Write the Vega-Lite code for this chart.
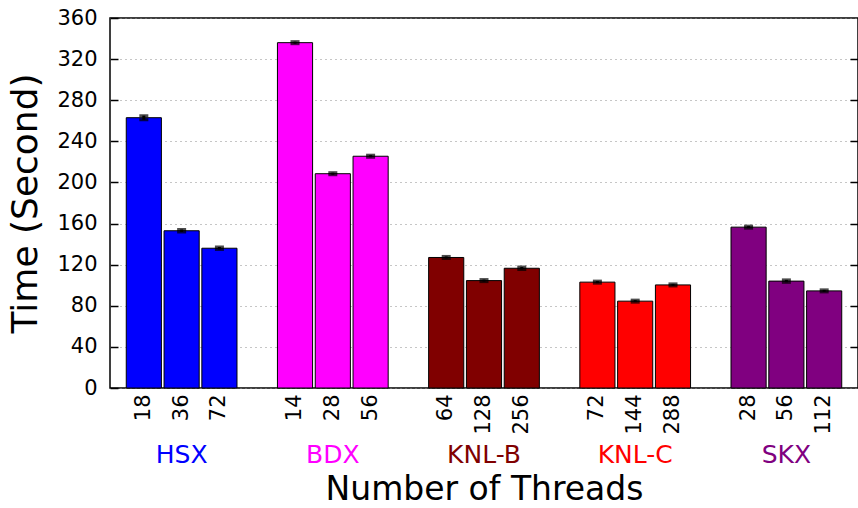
{
  "$schema": "https://vega.github.io/schema/vega-lite/v6.json",
  "width": 748,
  "height": 370,
  "autosize": "none",
  "padding": {"left": 110, "top": 18, "right": 0, "bottom": 120},
  "background": "white",
  "config": {
    "font": "DejaVu Sans",
    "view": {"stroke": "#000000", "strokeWidth": 1.5},
    "axis": {"labelFont": "DejaVu Sans", "titleFont": "DejaVu Sans", "labelColor": "#000000", "titleColor": "#000000", "titleFontWeight": "normal"}
  },
  "data": {
    "values": [
      {"platform": "HSX", "threads": "18", "time": 263, "err": 2},
      {"platform": "HSX", "threads": "36", "time": 153, "err": 1.2},
      {"platform": "HSX", "threads": "72", "time": 136, "err": 1.2},
      {"platform": "BDX", "threads": "14", "time": 336, "err": 1},
      {"platform": "BDX", "threads": "28", "time": 208.5, "err": 1},
      {"platform": "BDX", "threads": "56", "time": 225.5, "err": 1},
      {"platform": "KNL-B", "threads": "64", "time": 127, "err": 1},
      {"platform": "KNL-B", "threads": "128", "time": 104.5, "err": 1},
      {"platform": "KNL-B", "threads": "256", "time": 116.5, "err": 1.2},
      {"platform": "KNL-C", "threads": "72", "time": 103, "err": 1},
      {"platform": "KNL-C", "threads": "144", "time": 84.5, "err": 1},
      {"platform": "KNL-C", "threads": "288", "time": 100.3, "err": 1},
      {"platform": "SKX", "threads": "28", "time": 156.5, "err": 1},
      {"platform": "SKX", "threads": "56", "time": 104, "err": 1.2},
      {"platform": "SKX", "threads": "112", "time": 94.5, "err": 1}
    ]
  },
  "transform": [
    {"calculate": "datum.platform + '|' + datum.threads", "as": "key"}
  ],
  "resolve": {"axis": {"x": "independent", "y": "independent"}},
  "layer": [
    {
      "mark": {"type": "bar", "stroke": "#000000", "strokeWidth": 1},
      "encoding": {
        "x": {
          "field": "key",
          "type": "nominal",
          "scale": {
            "domain": ["HSX|18", "HSX|36", "HSX|72", "gap1", "BDX|14", "BDX|28", "BDX|56", "gap2", "KNL-B|64", "KNL-B|128", "KNL-B|256", "gap3", "KNL-C|72", "KNL-C|144", "KNL-C|288", "gap4", "SKX|28", "SKX|56", "SKX|112"],
            "paddingInner": 0.07,
            "paddingOuter": 0.43
          },
          "axis": {
            "orient": "bottom",
            "title": null,
            "labelExpr": "indexof(datum.value, '|') > 0 ? split(datum.value, '|')[1] : ''",
            "labelAngle": -90,
            "labelFontSize": 21,
            "labelPadding": 6,
            "ticks": false,
            "domain": false,
            "grid": false
          }
        },
        "y": {
          "field": "time",
          "type": "quantitative",
          "scale": {"domain": [0, 360], "nice": false},
          "axis": {
            "orient": "left",
            "title": "Time (Second)",
            "titleFontSize": 36,
            "titlePadding": 12,
            "values": [0, 40, 80, 120, 160, 200, 240, 280, 320, 360],
            "labelFontSize": 21,
            "labelPadding": 21,
            "ticks": true,
            "tickSize": -8,
            "tickColor": "#000000",
            "tickWidth": 1.5,
            "domain": false,
            "grid": true,
            "gridColor": "#8c8c8c",
            "gridDash": [1, 4],
            "gridWidth": 1
          }
        },
        "color": {
          "field": "platform",
          "type": "nominal",
          "scale": {
            "domain": ["HSX", "BDX", "KNL-B", "KNL-C", "SKX"],
            "range": ["#0000ff", "#ff00ff", "#800000", "#ff0000", "#800080"]
          },
          "legend": null
        }
      }
    },
    {
      "mark": {"type": "errorbar", "ticks": {"size": 9, "thickness": 3, "color": "#000000"}, "thickness": 3, "color": "#000000"},
      "encoding": {
        "x": {
          "field": "key",
          "type": "nominal",
          "axis": {
            "orient": "bottom",
            "offset": 50,
            "title": "Number of Threads",
            "titleFontSize": 33,
            "titlePadding": 6,
            "labelExpr": "indexof(['HSX|36', 'BDX|28', 'KNL-B|128', 'KNL-C|144', 'SKX|56'], datum.value) >= 0 ? split(datum.value, '|')[0] : ''",
            "labelAngle": 0,
            "labelFontSize": 25,
            "labelPadding": 4,
            "labelColor": {
              "condition": [
                {"test": "datum.value == 'HSX|36'", "value": "#0000ff"},
                {"test": "datum.value == 'BDX|28'", "value": "#ff00ff"},
                {"test": "datum.value == 'KNL-B|128'", "value": "#800000"},
                {"test": "datum.value == 'KNL-C|144'", "value": "#ff0000"}
              ],
              "value": "#800080"
            },
            "ticks": false,
            "domain": false,
            "grid": false
          }
        },
        "y": {
          "field": "time",
          "type": "quantitative",
          "axis": {
            "orient": "right",
            "title": null,
            "labels": false,
            "values": [40, 80, 120, 160, 200, 240, 280, 320],
            "ticks": true,
            "tickSize": -8,
            "tickColor": "#000000",
            "tickWidth": 1.5,
            "domain": false,
            "grid": false
          }
        },
        "yError": {"field": "err"}
      }
    }
  ]
}
